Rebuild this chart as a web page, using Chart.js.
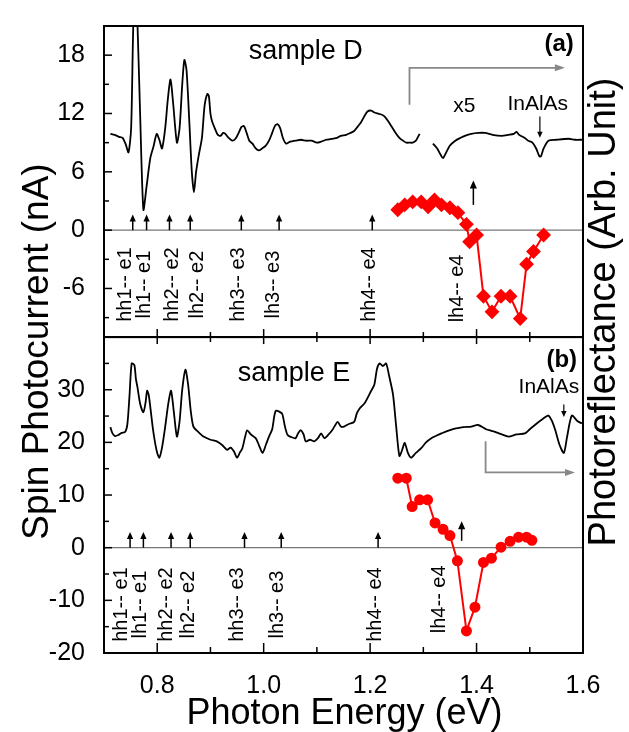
<!DOCTYPE html>
<html>
<head>
<meta charset="utf-8">
<script src="https://cdn.jsdelivr.net/npm/chart.js@4.4.0/dist/chart.umd.min.js"></script>
<style>
  html, body { margin: 0; padding: 0; background: #fff; }
  #wrap { position: relative; width: 629px; height: 732px; }
</style>
</head>
<body>
<div id="wrap"><canvas id="spin-chart"></canvas></div>
<script>
// photoreflectance, sample D (null = gap in the trace)
const prEnergyA = [0.712,0.72,0.728,0.735,0.741,0.746,0.751,0.755,0.759,0.763,0.768,0.774,0.780,0.787,0.793,0.799,0.804,0.809,0.815,0.820,
  0.825,0.830,0.837,0.842,0.847,0.851,0.855,0.860,0.865,0.869,0.873,0.878,0.884,0.889,0.894,0.897,0.900,0.903,0.908,0.914,
  0.919,0.924,0.928,0.934,0.941,0.947,0.953,0.958,0.963,0.968,0.973,0.979,0.985,0.991,0.997,1.004,1.010,1.016,1.021,1.026,
  1.031,1.036,1.042,1.050,1.060,1.070,1.080,1.090,1.100,1.108,1.118,1.128,1.138,1.145,1.155,1.163,1.170,1.176,1.183,1.189,
  1.195,1.202,1.208,1.214,1.221,1.227,1.234,1.241,1.248,1.255,1.262,1.268,1.274,1.280,1.286,1.290,1.293,
  1.305,
  1.318,1.326,1.332,1.337,1.343,1.350,1.360,1.370,1.378,1.390,1.403,1.416,1.430,1.447,1.460,1.470,1.475,1.480,1.490,1.497,
  1.505,1.512,1.518,1.521,1.526,1.535,1.550,1.573,1.585,1.598];
const prSignalA = [9.9,9.8,9.6,9.5,8.8,8.0,10.5,21,25,21,11.7,2.1,4.5,7.4,8.6,9.9,9.3,8.4,10.5,13.5,
  15.5,13.0,9.0,10.5,15.0,17.5,16.5,11.5,6.0,3.9,6.0,7.7,9.5,12.8,14.0,13.8,12.0,11.2,10.5,9.8,
  9.7,10.0,9.9,9.5,9.2,9.4,10.0,10.6,10.7,10.0,9.2,8.9,8.4,8.2,8.4,8.7,9.2,10.0,10.7,10.9,
  10.5,9.5,8.9,9.1,9.2,9.3,9.2,9.2,9.0,9.1,9.3,9.4,9.5,9.7,9.8,10.0,10.2,10.6,11.1,11.7,
  12.2,12.3,12.1,12.0,11.9,11.7,11.2,10.6,10.0,9.5,9.2,9.0,9.0,9.0,9.2,9.6,9.9,
  null,
  8.9,8.4,7.8,7.4,8.0,8.7,9.2,9.5,9.7,9.9,10.0,10.0,9.8,9.7,9.8,9.9,10.1,9.8,9.5,9.2,
  9.0,8.4,7.6,7.6,8.4,9.2,9.3,9.4,9.3,9.3];

// photoreflectance, sample E
const prEnergyB = [0.712,0.716,0.721,0.727,0.733,0.740,0.744,0.748,0.752,0.757,0.760,0.763,0.768,0.774,0.778,0.781,0.784,0.787,0.792,0.796,
  0.800,0.804,0.809,0.815,0.821,0.826,0.831,0.837,0.842,0.847,0.853,0.858,0.863,0.868,0.877,0.887,0.900,0.912,0.922,0.931,
  0.938,0.944,0.950,0.955,0.960,0.965,0.969,0.976,0.985,0.991,0.998,1.004,1.010,1.016,1.020,1.023,1.030,1.035,1.040,1.045,
  1.052,1.060,1.065,1.070,1.075,1.079,1.087,1.095,1.102,1.108,1.114,1.122,1.130,1.139,1.145,1.151,1.160,1.170,1.175,1.180,
  1.190,1.202,1.208,1.213,1.218,1.224,1.230,1.236,1.243,1.249,1.255,1.260,1.265,1.271,1.277,1.286,1.296,1.305,1.315,1.325,
  1.334,1.346,1.359,1.375,1.390,1.403,1.418,1.428,1.435,1.445,1.460,1.475,1.491,1.500,1.513,1.525,1.535,1.542,1.548,1.556,
  1.564,1.570,1.579,1.590,1.598];
const prSignalB = [22.9,21.7,21.2,21.4,21.8,22.0,23.5,29.0,35.0,34.7,32.0,30.4,27.3,25.7,27.5,29.8,29.0,26.7,22.5,19.9,
  18.0,17.1,19.0,23.0,27.5,29.8,26.0,21.1,24.0,30.0,33.8,31.0,26.0,23.0,22.0,21.1,20.5,20.2,19.5,18.6,
  19.0,18.3,17.1,18.0,18.9,21.0,22.3,21.5,20.8,19.5,18.0,19.5,21.1,22.5,25.0,26.0,25.8,25.4,23.0,21.4,
  21.0,20.8,21.8,22.3,21.5,20.2,20.5,20.2,20.8,21.7,20.8,21.5,22.5,23.9,23.0,23.0,23.5,23.9,25.5,26.4,
  27.5,29.8,31.0,34.0,35.0,34.5,35.0,32.5,29.1,23.0,17.4,18.5,19.9,18.0,17.1,18.0,18.9,20.0,20.8,21.3,
  21.7,22.2,22.6,22.9,23.0,23.3,22.5,22.2,22.0,21.6,21.1,21.5,21.7,22.5,23.6,24.5,25.1,24.0,22.3,19.5,
  18.0,21.0,25.1,24.0,23.6];

// spin photocurrent (red symbols)
const spinEnergyA = [1.252,1.265,1.280,1.296,1.309,1.321,1.334,1.350,1.365,1.381,1.387,1.400,1.413,1.429,1.446,1.463,1.482,1.494,1.507,1.526];
const spinCurrentA = [2.1,2.6,2.9,2.9,2.4,3.1,2.6,2.3,1.8,0.6,-1.2,-0.5,-6.8,-8.4,-6.8,-6.8,-9.1,-3.5,-2.2,-0.5];
const spinEnergyB = [1.252,1.268,1.279,1.293,1.308,1.322,1.337,1.350,1.364,1.381,1.397,1.413,1.428,1.446,1.463,1.479,1.494,1.504];
const spinCurrentB = [13.2,13.2,7.8,9.1,9.1,4.7,3.5,2.3,-2.5,-15.8,-11.3,-2.8,-2.0,0.1,1.2,2.0,2.0,1.4];

// transitions
const transNames = ['hh1-- e1','lh1-- e1','hh2-- e2','lh2-- e2','hh3-- e3','lh3-- e3','hh4-- e4'];
const transA = [0.754,0.780,0.823,0.862,0.958,1.029,1.204];
const transB = [0.749,0.774,0.826,0.862,0.964,1.033,1.215];
const lh4A = 1.394, lh4B = 1.372;

// ticks
const xTicks = [0.8,1.0,1.2,1.4,1.6];
const xMinor = [0.9,1.1,1.3,1.5];
const yTicksA = [-6,0,6,12,18];
const yMinorA = [-9,-3,3,9,15];
const yTicksB = [-20,-10,0,10,20,30];
const yMinorB = [-15,-5,5,15,25,35];

const FONT = '"Liberation Sans", Arial, Helvetica, sans-serif';
const pts = (xs, ys) => xs.map((x, i) => ({x: x, y: ys[i]}));

function vArrow(ctx, x, yFrom, yTo, head) {
  const dir = yTo < yFrom ? -1 : 1;
  ctx.beginPath(); ctx.moveTo(x, yFrom); ctx.lineTo(x, yTo - dir * head * 0.7); ctx.stroke();
  ctx.beginPath(); ctx.moveTo(x, yTo);
  ctx.lineTo(x - head * 0.45, yTo - dir * head); ctx.lineTo(x + head * 0.45, yTo - dir * head);
  ctx.closePath(); ctx.fill();
}
function vText(ctx, text, x, y) {
  ctx.save(); ctx.translate(x, y); ctx.rotate(-Math.PI / 2); ctx.fillText(text, 0, 0); ctx.restore();
}

const decor = {
  id: 'decor',
  beforeDatasetsDraw(chart) {
    const {ctx, chartArea: ca, scales} = chart;
    ctx.save();
    ctx.strokeStyle = '#777';
    ctx.lineWidth = 1.2;
    ['yA', 'yB'].forEach(id => {
      const y = scales[id].getPixelForValue(0);
      ctx.beginPath(); ctx.moveTo(ca.left, y); ctx.lineTo(ca.right, y); ctx.stroke();
    });
    ctx.restore();
  },
  afterDatasetsDraw(chart) {
    const {ctx, chartArea: ca, scales} = chart;
    const xs = scales.x, ya = scales.yA, yb = scales.yB;
    const X = v => xs.getPixelForValue(v);
    ctx.save();
    ctx.strokeStyle = '#000';
    ctx.fillStyle = '#000';

    // frames
    ctx.lineWidth = 2;
    ctx.strokeRect(ca.left, ya.top, ca.right - ca.left, ya.bottom - ya.top);
    ctx.strokeRect(ca.left, yb.top, ca.right - ca.left, yb.bottom - yb.top);

    // ticks, inward
    ctx.lineWidth = 1.5;
    const hTick = (y, len) => { ctx.beginPath(); ctx.moveTo(ca.left, y); ctx.lineTo(ca.left + len, y); ctx.stroke(); };
    yTicksA.forEach(v => hTick(ya.getPixelForValue(v), 8));
    yMinorA.forEach(v => hTick(ya.getPixelForValue(v), 5));
    yTicksB.forEach(v => hTick(yb.getPixelForValue(v), 8));
    yMinorB.forEach(v => hTick(yb.getPixelForValue(v), 5));
    const vTick = (x, y0, y1) => { ctx.beginPath(); ctx.moveTo(x, y0); ctx.lineTo(x, y1); ctx.stroke(); };
    xTicks.forEach(v => { vTick(X(v), ya.bottom - 8, ya.bottom + 7); vTick(X(v), yb.bottom, yb.bottom - 10); });
    xMinor.forEach(v => { vTick(X(v), ya.bottom - 5, ya.bottom + 5); vTick(X(v), yb.bottom, yb.bottom - 6); });

    // transition arrows and labels
    ctx.lineWidth = 1.5;
    ctx.textAlign = 'center';
    ctx.textBaseline = 'middle';
    ctx.font = '20px ' + FONT;
    const labelXA = [0.740,0.777,0.828,0.875,0.953,1.019,1.198];
    const labelXB = [0.733,0.768,0.818,0.859,0.950,1.026,1.211];
    transA.forEach((v, i) => {
      vArrow(ctx, X(v), ya.getPixelForValue(0), ya.getPixelForValue(1.6), 7);
      vText(ctx, transNames[i], X(labelXA[i]), ya.getPixelForValue(-5.6));
    });
    transB.forEach((v, i) => {
      vArrow(ctx, X(v), yb.getPixelForValue(0), yb.getPixelForValue(3.0), 7);
      vText(ctx, transNames[i], X(labelXB[i]), yb.getPixelForValue(-10.8));
    });
    vArrow(ctx, X(lh4A), ya.getPixelForValue(2.6), ya.getPixelForValue(5.1), 8);
    vText(ctx, 'lh4-- e4', X(1.365), ya.getPixelForValue(-6.0));
    vArrow(ctx, X(lh4B), yb.getPixelForValue(1.3), yb.getPixelForValue(5.0), 8);
    vText(ctx, 'lh4-- e4', X(1.331), yb.getPixelForValue(-9.8));

    // InAlAs markers
    ctx.lineWidth = 1.2;
    vArrow(ctx, X(1.519), ya.getPixelForValue(11.7), ya.getPixelForValue(9.5), 6);
    vArrow(ctx, X(1.564), yb.getPixelForValue(27.2), yb.getPixelForValue(24.8), 6);

    // panel texts
    ctx.font = '27px ' + FONT;
    ctx.fillText('sample D', X(1.079), ya.getPixelForValue(18.4));
    ctx.fillText('sample E', X(1.057), yb.getPixelForValue(33.1));
    ctx.font = 'bold 24px ' + FONT;
    ctx.fillText('(a)', X(1.555), ya.getPixelForValue(19.1));
    ctx.fillText('(b)', X(1.560), yb.getPixelForValue(35.6));
    ctx.font = '21px ' + FONT;
    ctx.fillText('x5', X(1.377), ya.getPixelForValue(12.7));
    ctx.fillText('InAlAs', X(1.515), ya.getPixelForValue(13.0));
    ctx.fillText('InAlAs', X(1.536), yb.getPixelForValue(30.4));

    // gray scale-switch arrows
    ctx.strokeStyle = '#888';
    ctx.fillStyle = '#888';
    ctx.lineWidth = 1.8;
    let x0 = X(1.274), x1 = X(1.566), y0 = ya.getPixelForValue(12.9), y1 = ya.getPixelForValue(16.7);
    ctx.beginPath(); ctx.moveTo(x0, y0); ctx.lineTo(x0, y1); ctx.lineTo(x1 - 8, y1); ctx.stroke();
    ctx.beginPath(); ctx.moveTo(x1, y1); ctx.lineTo(x1 - 10, y1 - 3.5); ctx.lineTo(x1 - 10, y1 + 3.5); ctx.closePath(); ctx.fill();
    x0 = X(1.417); x1 = X(1.585); y0 = yb.getPixelForValue(20.2); y1 = yb.getPixelForValue(14.3);
    ctx.beginPath(); ctx.moveTo(x0, y0); ctx.lineTo(x0, y1); ctx.lineTo(x1 - 8, y1); ctx.stroke();
    ctx.beginPath(); ctx.moveTo(x1, y1); ctx.lineTo(x1 - 10, y1 - 3.5); ctx.lineTo(x1 - 10, y1 + 3.5); ctx.closePath(); ctx.fill();

    // axis titles
    ctx.fillStyle = '#000';
    ctx.font = '37px ' + FONT;
    vText(ctx, 'Spin Photocurrent (nA)', 38, (ya.top + yb.bottom) / 2 + 12);
    ctx.font = '38px ' + FONT;
    vText(ctx, 'Photoreflectance (Arb. Unit)', 605, 312);
    ctx.font = '36px ' + FONT;
    ctx.fillText('Photon Energy (eV)', (ca.left + ca.right) / 2 + 1, 714);
    ctx.restore();
  }
};

const el = document.getElementById('spin-chart');
new Chart(el, {
  type: 'line',
  data: {
    datasets: [
      { data: pts(prEnergyA, prSignalA), yAxisID: 'yA', borderColor: '#000', borderWidth: 1.8,
        pointRadius: 0, tension: 0.25, spanGaps: false },
      { data: pts(prEnergyB, prSignalB), yAxisID: 'yB', borderColor: '#000', borderWidth: 1.8,
        pointRadius: 0, tension: 0.25 },
      { data: pts(spinEnergyA, spinCurrentA), yAxisID: 'yA', borderColor: '#ff0000', backgroundColor: '#ff0000',
        borderWidth: 2, pointStyle: 'rectRot', pointRadius: 6, tension: 0 },
      { data: pts(spinEnergyB, spinCurrentB), yAxisID: 'yB', borderColor: '#ff0000', backgroundColor: '#ff0000',
        borderWidth: 2, pointStyle: 'circle', pointRadius: 4.5, tension: 0 }
    ]
  },
  options: {
    responsive: true,
    maintainAspectRatio: false,
    animation: false,
    layout: { padding: { top: 8, right: 46, bottom: 0, left: 0 } },
    plugins: { legend: { display: false }, tooltip: { enabled: false } },
    scales: {
      x: {
        type: 'linear', min: 0.7, max: 1.6,
        grid: { display: false }, border: { display: false },
        afterBuildTicks: s => { s.ticks = xTicks.map(v => ({value: v})); },
        afterFit: s => { s.height = 79; },
        ticks: { color: '#000', padding: 10, maxRotation: 0, font: { size: 25, family: FONT },
          callback: v => v.toFixed(1) }
      },
      yB: {
        type: 'linear', position: 'left', stack: 'panels', stackWeight: 325, min: -20, max: 40,
        grid: { display: false }, border: { display: false },
        afterBuildTicks: s => { s.ticks = yTicksB.map(v => ({value: v})); },
        afterFit: s => { s.width = 104; },
        ticks: { color: '#000', padding: 11, font: { size: 25, family: FONT }, callback: v => String(v) }
      },
      yA: {
        type: 'linear', position: 'left', stack: 'panels', stackWeight: 320, min: -11, max: 21,
        grid: { display: false }, border: { display: false },
        afterBuildTicks: s => { s.ticks = yTicksA.map(v => ({value: v})); },
        afterFit: s => { s.width = 104; },
        ticks: { color: '#000', padding: 11, font: { size: 25, family: FONT }, callback: v => String(v) }
      }
    }
  },
  plugins: [decor]
});
</script>
</body>
</html>
